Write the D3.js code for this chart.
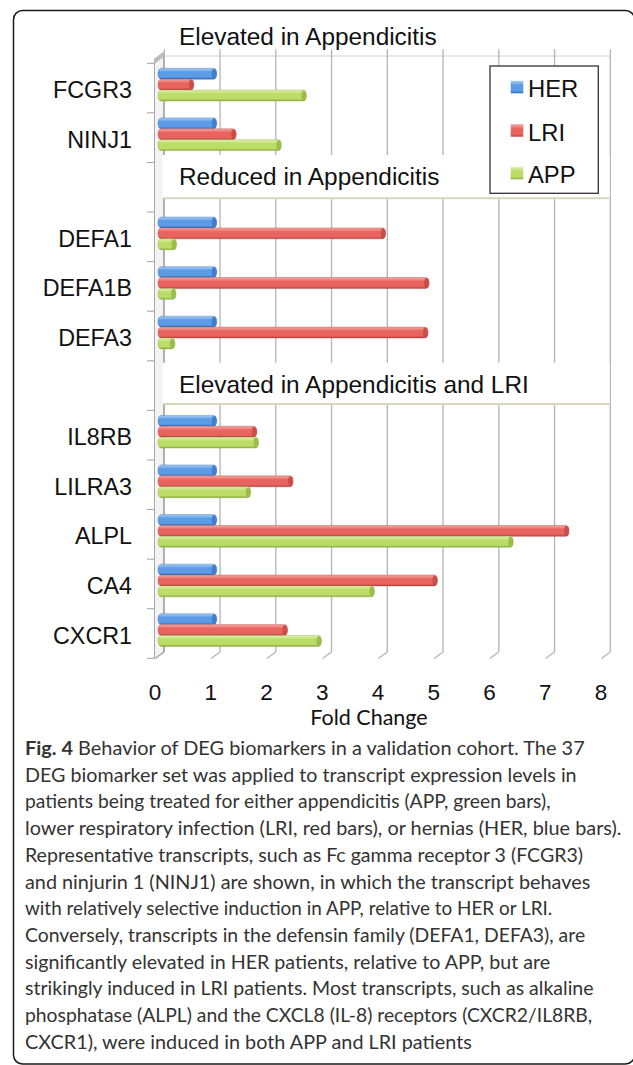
<!DOCTYPE html>
<html><head><meta charset="utf-8">
<script src="https://cdn.jsdelivr.net/npm/d3@7"></script>
<style>
html,body{margin:0;padding:0;background:#fff;}
svg{display:block;}
</style></head>
<body>
<svg id="chart" width="633" height="1065"></svg>
<script>
// ---------------- data ----------------
const categories = ["FCGR3","NINJ1","","DEFA1","DEFA1B","DEFA3","","IL8RB","LILRA3","ALPL","CA4","CXCR1"];
const seriesNames = ["HER","LRI","APP"];
const herValues = [1,1,null,1,1,1,null,1,1,1,1,1];
const lriValues = [0.59,1.35,null,4.03,4.81,4.79,null,1.72,2.37,7.32,4.96,2.27];
const appValues = [2.61,2.16,null,0.28,0.27,0.25,null,1.75,1.61,6.32,3.83,2.88];
const xTicks = [0,1,2,3,4,5,6,7,8];
const sectionTitles = ["Elevated in Appendicitis","Reduced in Appendicitis","Elevated in Appendicitis and LRI"];
const sectionRows = [null, 2, 6];
const xAxisTitle = "Fold Change";
const captionLines = [
 ["Fig. 4"," Behavior of DEG biomarkers in a validation cohort. The 37"],
 ["","DEG biomarker set was applied to transcript expression levels in"],
 ["","patients being treated for either appendicitis (APP, green bars),"],
 ["","lower respiratory infection (LRI, red bars), or hernias (HER, blue bars)."],
 ["","Representative transcripts, such as Fc gamma receptor 3 (FCGR3)"],
 ["","and ninjurin 1 (NINJ1) are shown, in which the transcript behaves"],
 ["","with relatively selective induction in APP, relative to HER or LRI."],
 ["","Conversely, transcripts in the defensin family (DEFA1, DEFA3), are"],
 ["","significantly elevated in HER patients, relative to APP, but are"],
 ["","strikingly induced in LRI patients. Most transcripts, such as alkaline"],
 ["","phosphatase (ALPL) and the CXCL8 (IL-8) receptors (CXCR2/IL8RB,"],
 ["","CXCR1), were induced in both APP and LRI patients"]
];
const captionWidths = [560,551.7,525.7,596.7,558.3,565.7,527.3,560.3,525.7,569.3,567.7,447.3];

// ---------------- layout ----------------
const svg = d3.select("#chart");
const dx = 9, dy = 6.5;            // depth offset (back -> front)
const backX0 = 164.3;
const barX0 = 161;
const frontX0 = 155;
const topBack = 49.3, floorBack = 652;

const x = d3.scaleLinear().domain([0,8]).range([0,446]);
const y = d3.scaleBand().domain(d3.range(categories.length)).range([63.3,658.3]).padding(0);
const seriesScale = d3.scaleBand().domain(seriesNames).range([5, 5+3*10.9]);

const colors = {
  HER:{light:"#a9cff6", mid:"#5c9be6", dark:"#3269b8", cap:"#3f7acb"},
  LRI:{light:"#f6aaa6", mid:"#e9645e", dark:"#b63f3a", cap:"#c64b46"},
  APP:{light:"#e2f1b4", mid:"#bcdc68", dark:"#88aa3c", cap:"#96b948"}
};
const defs = svg.append("defs");
seriesNames.forEach(s=>{
  const g = defs.append("linearGradient").attr("id","g"+s).attr("x1",0).attr("y1",0).attr("x2",0).attr("y2",1);
  g.append("stop").attr("offset","0%").attr("stop-color",colors[s].light);
  g.append("stop").attr("offset","35%").attr("stop-color",colors[s].mid);
  g.append("stop").attr("offset","80%").attr("stop-color",colors[s].mid);
  g.append("stop").attr("offset","100%").attr("stop-color",colors[s].dark);
});

// frame
svg.append("rect").attr("x",13.5).attr("y",10.5).attr("width",621).attr("height",1053.5)
  .attr("rx",9).attr("fill","none").attr("stroke","#1a1a1a").attr("stroke-width",1.5);

// top back line
svg.append("line").attr("x1",backX0).attr("x2",backX0+x(8)).attr("y1",56).attr("y2",56)
  .attr("stroke","#d0d0d0").attr("stroke-width",1);

// gridlines
const grid = svg.append("g");
grid.selectAll("line.v").data(xTicks).join("line")
  .attr("x1",d=>backX0+x(d)).attr("x2",d=>backX0+x(d))
  .attr("y1",topBack).attr("y2",floorBack)
  .attr("stroke","#b4b4b4").attr("stroke-width",1.3);
grid.selectAll("line.s").data(xTicks).join("line")
  .attr("x1",d=>backX0+x(d)).attr("x2",d=>backX0+x(d)-dx)
  .attr("y1",floorBack).attr("y2",floorBack+dy)
  .attr("stroke","#b4b4b4").attr("stroke-width",1.3);

// left wall
svg.append("polygon")
  .attr("points",[[154.5,59],[163.5,52.5],[163.5,floorBack],[154.5,floorBack+dy]].map(p=>p.join(",")).join(" "))
  .attr("fill","#f3f3f3").attr("stroke","#a8a8a8").attr("stroke-width",1);
svg.append("polygon")
  .attr("points",[[154.5,59],[163.5,52.5],[163.5,57],[154.5,64]].map(p=>p.join(",")).join(" "))
  .attr("fill","#bdbdbd");
// category ticks
const tickYs = d3.range(categories.length+1).map(i=> i<categories.length ? y(i) : y(categories.length-1)+y.bandwidth());
svg.selectAll("line.ct").data(tickYs).join("line")
  .attr("x1",147).attr("x2",154.5).attr("y1",d=>d).attr("y2",d=>d)
  .attr("stroke","#a0a0a0").attr("stroke-width",1);

// section heading boxes (white with tan bottom rule)
sectionRows.forEach((r,k)=>{
  if(r===null) return;
  const top = k===1 ? y(r)-7.5 : y(r)+2;
  const bot = k===1 ? y(r)+35.8 : y(r)+43.2;
  svg.append("rect").attr("x",162.5).attr("y",top).attr("width",447).attr("height",bot-top).attr("fill","#fff");
  svg.append("line").attr("x1",162.5).attr("x2",609.5).attr("y1",bot).attr("y2",bot)
    .attr("stroke","#d9d5bd").attr("stroke-width",2);
});

// bars
const valuesBySeries = {HER:herValues, LRI:lriValues, APP:appValues};
const bars = svg.append("g");
categories.forEach((c,i)=>{
  seriesNames.forEach(s=>{
    const v = valuesBySeries[s][i];
    if(v===null) return;
    const by = y(i)+seriesScale(s), bh = seriesScale.bandwidth();
    const x1 = barX0 + x(v);
    bars.append("rect").attr("x",158).attr("y",by).attr("width",x1-158).attr("height",bh)
      .attr("rx",3).attr("ry",bh/2).attr("fill","url(#g"+s+")")
      .attr("stroke",colors[s].dark).attr("stroke-width",0.4);
    bars.append("ellipse").attr("cx",x1-2.6).attr("cy",by+bh/2).attr("rx",2.4).attr("ry",bh/2-0.4)
      .attr("fill",colors[s].cap).attr("opacity",0.9);
  });
});

// category labels
svg.selectAll("text.cat").data(categories).join("text")
  .attr("x",132).attr("y",(d,i)=>y(i)+y.bandwidth()/2+10)
  .attr("text-anchor","end").attr("font-family","'Liberation Sans', Arial, sans-serif")
  .attr("font-size",23.3).attr("fill","#111").text(d=>d);

// section titles
const titleY = [45, y(2)+22.5, y(6)+32.5];
sectionTitles.forEach((t,k)=>{
  svg.append("text").attr("x",179).attr("y",titleY[k])
    .attr("font-family","'Liberation Sans', Arial, sans-serif").attr("font-size",24.4)
    .attr("fill","#111").text(t);
});

// legend
const lg = svg.append("g");
lg.append("rect").attr("x",490).attr("y",66).attr("width",108.3).attr("height",127.3)
  .attr("fill","#fff").attr("stroke","#333").attr("stroke-width",1.3);
const legendY = [97.3,140.7,183.3];
seriesNames.forEach((s,k)=>{
  lg.append("rect").attr("x",510.7).attr("y",legendY[k]-16.5).attr("width",12.6).attr("height",12.5)
    .attr("fill","url(#g"+s+")");
  lg.append("text").attr("x",528).attr("y",legendY[k])
    .attr("font-family","'Liberation Sans', Arial, sans-serif").attr("font-size",23.8)
    .attr("fill","#111").text(s);
});

// x tick labels
svg.selectAll("text.xt").data(xTicks).join("text")
  .attr("x",d=>frontX0+x(d)).attr("y",699.5)
  .attr("text-anchor","middle").attr("font-family","'Liberation Sans', Arial, sans-serif")
  .attr("font-size",22.5).attr("fill","#111").text(d=>d);
svg.append("text").attr("x",369).attr("y",725).attr("text-anchor","middle")
  .attr("font-family","Lato, sans-serif").attr("font-size",21.5).attr("fill","#111").text(xAxisTitle);

// caption
captionLines.forEach((ln,i)=>{
  const t = svg.append("text").attr("x",0).attr("y",0)
    .attr("font-family","Lato, sans-serif").attr("font-size",18.5).attr("fill","#333");
  if(ln[0]) t.append("tspan").attr("font-weight","bold").text(ln[0]);
  t.append("tspan").text(ln[1]);
  const w = t.node().getComputedTextLength();
  const s = captionWidths[i]/w;
  t.attr("transform",`translate(25,${755+26.7*i}) scale(${s},1)`);
});
</script>
</body></html>
